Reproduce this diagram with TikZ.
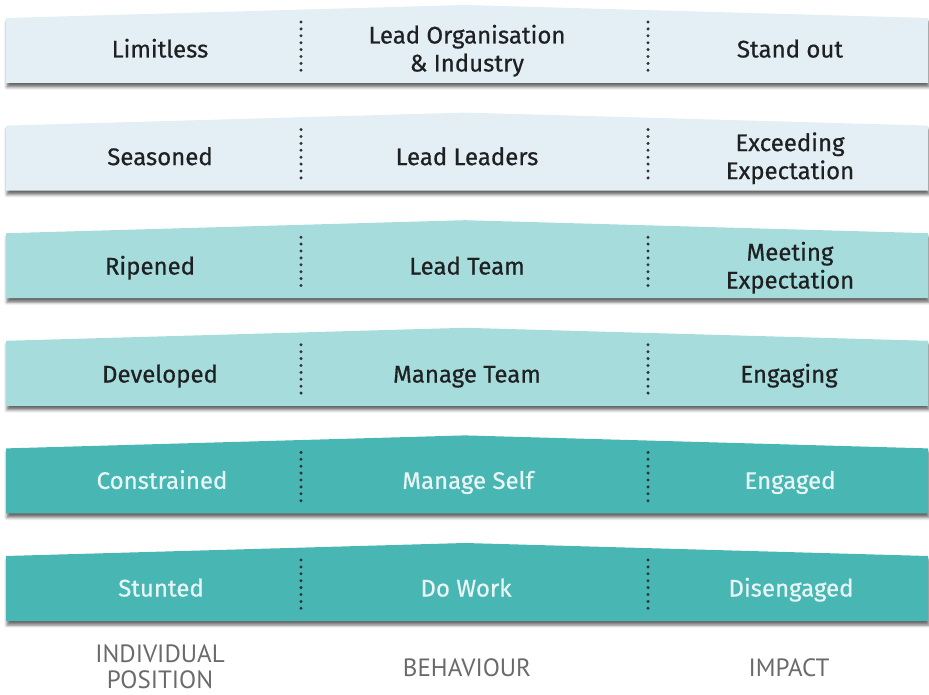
\documentclass[tikz,border=0pt]{standalone}
\usepackage{fontspec}
\setmainfont{Fira Sans}
\newfontfamily\cellfont{Fira Sans}[FakeBold=0.6]
\newfontfamily\captionfont{PT Sans}
\usetikzlibrary{shadows.blur}
\definecolor{palegrey}{HTML}{E3EEF5}
\definecolor{paleteal}{HTML}{A6DCDC}
\definecolor{deepteal}{HTML}{48B7B4}
\definecolor{dotgrey}{HTML}{2E3236}
\definecolor{inkdark}{HTML}{1E2022}
\definecolor{inklight}{HTML}{E8F5F4}
\definecolor{labelgrey}{HTML}{6A6A6A}

\newcommand{\ladderband}[2]{
  % band with a raised middle, bottom edge at y = #2
  \fill[#1, blur shadow={shadow xshift=1pt, shadow yshift=-4pt, shadow blur radius=3pt, shadow opacity=60}]
    (6, #2) -- (6, #2-65) -- (465, #2-78) -- (928, #2-65) -- (928, #2) -- cycle;
  \draw[sep] (301, #2-61) -- (301, #2-6);
  \draw[sep] (648, #2-61) -- (648, #2-6);
}

\begin{document}
\begin{tikzpicture}[x=1pt, y=-1pt,
  sep/.style={dotgrey, line width=3.3pt, line cap=round, dash pattern=on 0pt off 6.9pt},
  cell/.style={text height=17pt, text depth=0pt, align=center, inner sep=0pt,
    font=\cellfont\fontsize{24}{28}\selectfont, text=inkdark},
  lightcell/.style={cell, text=inklight},
  caption/.style={align=center, inner sep=0pt, text=labelgrey,
    font=\captionfont\fontsize{25}{26}\selectfont}]
	\useasboundingbox (0, 0) rectangle (929, 695);

	\ladderband{palegrey}{83}
	\node[cell] (pos1) at (160, 49) {Limitless};
	\node[cell] (beh1) at (467, 63) {Lead Organisation\\\& Industry};
	\node[cell] (imp1) at (790, 49) {Stand out};

	\ladderband{palegrey}{190.6}
	\node[cell] (pos2) at (160, 156.6) {Seasoned};
	\node[cell] (beh2) at (467, 156.6) {Lead Leaders};
	\node[cell] (imp2) at (790, 170.6) {Exceeding\\Expectation};

	\ladderband{paleteal}{298.2}
	\node[cell] (pos3) at (150, 266) {Ripened};
	\node[cell] (beh3) at (467, 266) {Lead Team};
	\node[cell] (imp3) at (790, 280) {Meeting\\Expectation};

	\ladderband{paleteal}{405.8}
	\node[cell] (pos4) at (160, 374) {Developed};
	\node[cell] (beh4) at (467, 374) {Manage Team};
	\node[cell] (imp4) at (789, 374) {Engaging};

	\ladderband{deepteal}{513.4}
	\node[lightcell] (pos5) at (162, 480.4) {Constrained};
	\node[lightcell] (beh5) at (468, 480.4) {Manage Self};
	\node[lightcell] (imp5) at (790, 480.4) {Engaged};

	\ladderband{deepteal}{621}
	\node[lightcell] (pos6) at (161, 588) {Stunted};
	\node[lightcell] (beh6) at (466, 588) {Do Work};
	\node[lightcell] (imp6) at (791, 588) {Disengaged};

	\node[caption] (posname) at (160, 667) {INDIVIDUAL\\POSITION};
	\node[caption] (behname) at (467, 668) {BEHAVIOUR};
	\node[caption] (impname) at (789, 668) {IMPACT};
\end{tikzpicture}
\end{document}
